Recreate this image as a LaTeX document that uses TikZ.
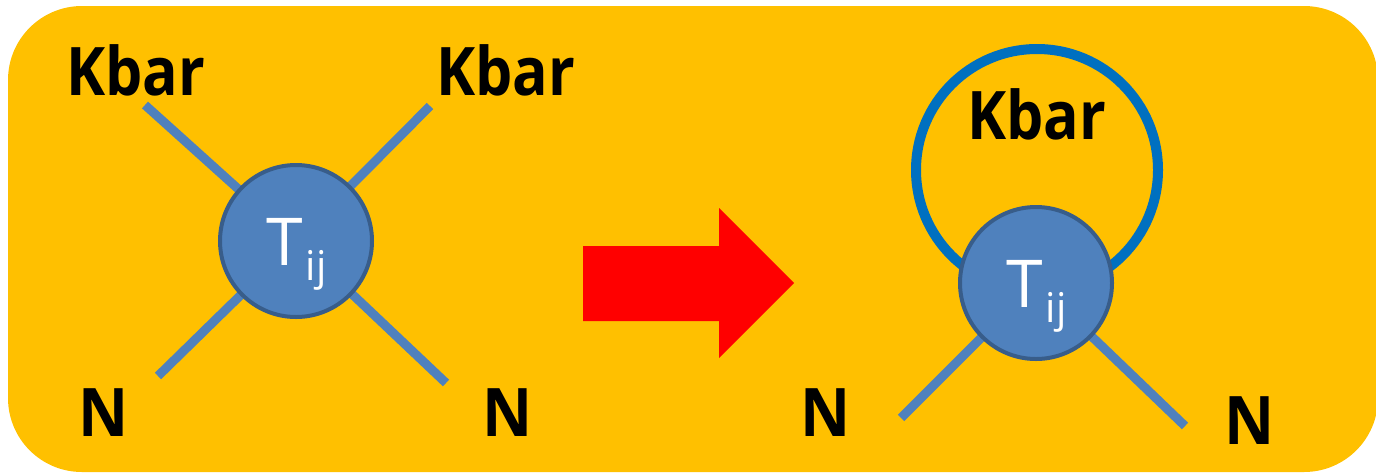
\documentclass[tikz,border=0pt]{standalone}
\usepackage{fontspec}
\setmainfont{Open Sans}
\definecolor{bgor}{HTML}{FFC000}
\definecolor{legblue}{HTML}{4F81BD}
\definecolor{rimblue}{HTML}{385D8A}
\definecolor{ringblue}{HTML}{0070C0}
\definecolor{arrred}{HTML}{FF0000}
\tikzset{
  lbl/.style={inner sep=0pt, anchor=base west, font=\bfseries\fontsize{67}{67}\selectfont, text=black},
  leg/.style={draw=legblue, line width=9pt},
  tnode/.style={circle, draw=rimblue, line width=4pt, fill=legblue, minimum size=152pt, inner sep=0pt},
  kring/.style={circle, draw=ringblue, line width=10pt, minimum size=242pt, inner sep=0pt},
  tlbl/.style={inner sep=0pt, anchor=base west, text=white},
}
\newcommand{\Tij}{{\fontsize{66}{66}\selectfont T}\kern3pt{\fontsize{41}{41}\selectfont\raisebox{-15pt}{ij}}}
\begin{document}
\begin{tikzpicture}[x=1pt,y=-1pt]
\useasboundingbox (0,0) rectangle (1376,472);
\fill[bgor, rounded corners=74pt] (8,6) rectangle (1378,472);
% left diagram
\coordinate (c1) at (296,241);
\coordinate (a1) at (145,105);
\coordinate (a2) at (430,106);
\coordinate (a3) at (158,376);
\coordinate (a4) at (446,383);
\draw[leg] (a1) -- (c1);
\draw[leg] (a2) -- (c1);
\draw[leg] (a3) -- (c1);
\draw[leg] (a4) -- (c1);
\node[tnode] (t1) at (c1) {};
\node[tlbl] (t1l) at (266,265) {\Tij};
\node[lbl] (k1) at (66,95) {\scalebox{0.88}[1]{Kbar}};
\node[lbl] (k2) at (436,95) {\scalebox{0.88}[1]{Kbar}};
\node[lbl] (n1) at (78,436) {\scalebox{0.92}[1]{N}};
\node[lbl] (n2) at (482,436) {\scalebox{0.92}[1]{N}};
% arrow
\fill[arrred] (583,246) -- (719,246) -- (719,208) -- (794,283) -- (719,358) -- (719,321) -- (583,321) -- cycle;
% right diagram
\coordinate (c2) at (1036,283);
\node[kring] (ring) at (1037,170) {};
\coordinate (b1) at (901,418);
\coordinate (b2) at (1185,426);
\draw[leg] (b1) -- (c2);
\draw[leg] (b2) -- (c2);
\node[tnode] (t2) at (c2) {};
\node[tlbl] (t2l) at (1006,307) {\Tij};
\node[lbl] (k3) at (967,139) {\scalebox{0.88}[1]{Kbar}};
\node[lbl] (n3) at (800,436) {\scalebox{0.92}[1]{N}};
\node[lbl] (n4) at (1224,444) {\scalebox{0.92}[1]{N}};
\end{tikzpicture}
\end{document}
